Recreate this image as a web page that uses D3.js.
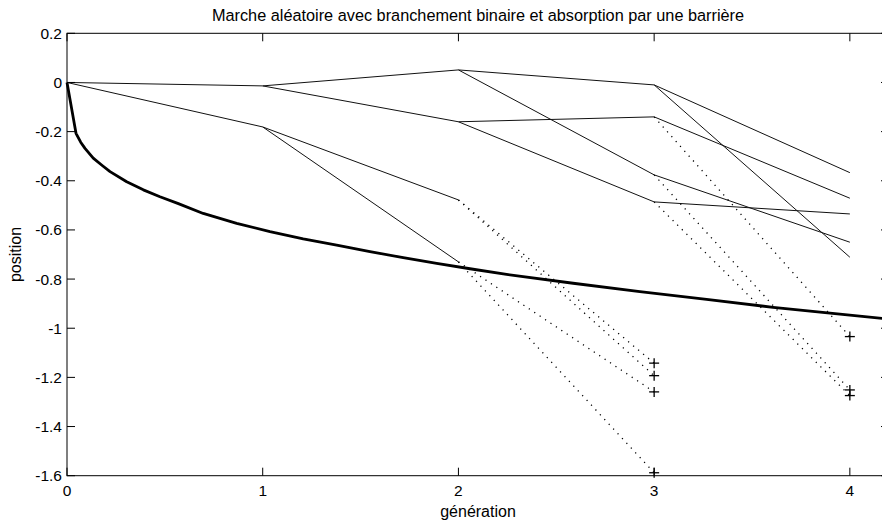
<!DOCTYPE html>
<html>
<head>
<meta charset="utf-8">
<script src="https://cdn.jsdelivr.net/npm/d3@7"></script>
<style>
  body { margin: 0; background: #fff; }
  svg { display: block; font-family: "Liberation Sans", Arial, sans-serif; }
</style>
</head>
<body>
<svg width="882" height="525"></svg>
<script>
// valeurs
const xTicks = [0, 1, 2, 3, 4];
const yTicks = [0.2, 0, -0.2, -0.4, -0.6, -0.8, -1, -1.2, -1.4, -1.6];

// positions par génération, avec l'indice du parent dans la génération précédente
const gen0 = [0];
const gen1 = [-0.014, -0.181];
const parent1 = [0, 0];
const gen2 = [0.051, -0.16, -0.478, -0.73];
const parent2 = [0, 0, 1, 1];
const gen3 = [-0.01, -0.376, -0.14, -0.486];
const parent3 = [0, 0, 1, 1];
const gen4 = [-0.367, -0.711, -0.471, -0.65, -0.535];
const parent4 = [0, 0, 2, 1, 3];

// particules absorbées (sous la barrière)
const absorbed3 = [-1.142, -1.193, -1.259, -1.588];
const absParent3 = [2, 2, 3, 3];
const absorbed4 = [-1.034, -1.251, -1.274];
const absParent4 = [2, 1, 3];

// barrière (courbe épaisse)
const barrierX = [0, 0.046, 0.07, 0.092, 0.134, 0.18, 0.22, 0.305, 0.39, 0.475, 0.569, 0.696, 0.867, 1.037, 1.207,
  1.378, 1.548, 1.718, 1.889, 2.059, 2.246, 2.586, 2.927, 3.268, 3.608, 3.949, 4.2];
const barrierY = [0, -0.207, -0.243, -0.268, -0.308, -0.338, -0.363, -0.404, -0.437, -0.465, -0.493, -0.533, -0.573, -0.607, -0.636,
  -0.662, -0.688, -0.713, -0.736, -0.758, -0.781, -0.817, -0.851, -0.883, -0.915, -0.943, -0.963];

const svg = d3.select("svg");
const mLeft = 67, mRight = 889, mTop = 33.3, mBottom = 475.7;

const x = d3.scaleLinear().domain([0, 4.2]).range([mLeft, mRight]);
const y = d3.scaleLinear().domain([-1.6, 0.2]).range([mBottom, mTop]);

const plot = svg.append("g");

// segments de l'arbre
let solid = [];
let dotted = [];
const gens = [gen0, gen1, gen2, gen3, gen4];
const parents = [null, parent1, parent2, parent3, parent4];
for (let g = 1; g < gens.length; g++) {
    gens[g].forEach(function(p, i) {
        solid.push({ x0: g - 1, y0: gens[g - 1][parents[g][i]], x1: g, y1: p });
    });
}
absorbed3.forEach(function(p, i) {
    dotted.push({ x0: 2, y0: gen2[absParent3[i]], x1: 3, y1: p });
});
absorbed4.forEach(function(p, i) {
    dotted.push({ x0: 3, y0: gen3[absParent4[i]], x1: 4, y1: p });
});

plot.selectAll("line.branch").data(solid)
    .enter().append("line")
    .attr("class", "branch")
    .attr("x1", d => x(d.x0)).attr("y1", d => y(d.y0))
    .attr("x2", d => x(d.x1)).attr("y2", d => y(d.y1))
    .attr("stroke", "#111")
    .attr("stroke-width", 1);

plot.selectAll("line.dead").data(dotted)
    .enter().append("line")
    .attr("class", "dead")
    .attr("x1", d => x(d.x0)).attr("y1", d => y(d.y0))
    .attr("x2", d => x(d.x1)).attr("y2", d => y(d.y1))
    .attr("stroke", "#000")
    .attr("stroke-width", 1.3)
    .attr("stroke-dasharray", "1.2 5.3");

// marqueurs +
const marks = dotted.map(d => ({ gx: d.x1, py: d.y1 }));
const plus = plot.selectAll("g.plus").data(marks)
    .enter().append("g")
    .attr("class", "plus")
    .attr("transform", d => `translate(${x(d.gx)},${y(d.py)})`);
plus.append("line").attr("x1", -5).attr("x2", 5).attr("y1", 0).attr("y2", 0);
plus.append("line").attr("x1", 0).attr("x2", 0).attr("y1", -5).attr("y2", 5);
plus.selectAll("line").attr("stroke", "#000").attr("stroke-width", 1.3);

// barrière
const barrier = barrierX.map((v, i) => [v, barrierY[i]]);
plot.append("path")
    .datum(barrier)
    .attr("fill", "none")
    .attr("stroke", "#000")
    .attr("stroke-width", 2.8)
    .attr("stroke-linejoin", "round")
    .attr("d", d3.line().x(d => x(d[0])).y(d => y(d[1])));

// cadre et graduations (style matlab, vers l'intérieur)
svg.append("rect")
    .attr("x", mLeft).attr("y", mTop)
    .attr("width", mRight - mLeft).attr("height", mBottom - mTop)
    .attr("fill", "none").attr("stroke", "#000").attr("stroke-width", 1);

const tickLen = 8;
svg.selectAll("line.xt").data(xTicks).enter().append("line")
    .attr("x1", d => x(d)).attr("x2", d => x(d))
    .attr("y1", mBottom).attr("y2", mBottom - tickLen)
    .attr("stroke", "#000");
svg.selectAll("line.xtt").data(xTicks).enter().append("line")
    .attr("x1", d => x(d)).attr("x2", d => x(d))
    .attr("y1", mTop).attr("y2", mTop + tickLen)
    .attr("stroke", "#000");
svg.selectAll("line.yt").data(yTicks).enter().append("line")
    .attr("x1", mLeft).attr("x2", mLeft + tickLen)
    .attr("y1", d => y(d)).attr("y2", d => y(d))
    .attr("stroke", "#000");
svg.selectAll("line.ytr").data(yTicks).enter().append("line")
    .attr("x1", mRight).attr("x2", mRight - tickLen)
    .attr("y1", d => y(d)).attr("y2", d => y(d))
    .attr("stroke", "#000");

const fmt = v => String(+v.toFixed(1));
svg.selectAll("text.xl").data(xTicks).enter().append("text")
    .attr("x", d => x(d)).attr("y", mBottom + 20)
    .attr("text-anchor", "middle")
    .attr("font-size", 15.5)
    .text(fmt);
svg.selectAll("text.yl").data(yTicks).enter().append("text")
    .attr("x", mLeft - 5).attr("y", d => y(d) + 5.5)
    .attr("text-anchor", "end")
    .attr("font-size", 15.5)
    .text(fmt);

// titres
svg.append("text")
    .attr("x", (mLeft + mRight) / 2).attr("y", 21)
    .attr("text-anchor", "middle")
    .attr("font-size", 16.3)
    .text("Marche aléatoire avec branchement binaire et absorption par une barrière");
svg.append("text")
    .attr("x", (mLeft + mRight) / 2).attr("y", 517)
    .attr("text-anchor", "middle")
    .attr("font-size", 16)
    .text("génération");
svg.append("text")
    .attr("transform", `translate(21,${(mTop + mBottom) / 2}) rotate(-90)`)
    .attr("text-anchor", "middle")
    .attr("font-size", 16)
    .text("position");
</script>
</body>
</html>
